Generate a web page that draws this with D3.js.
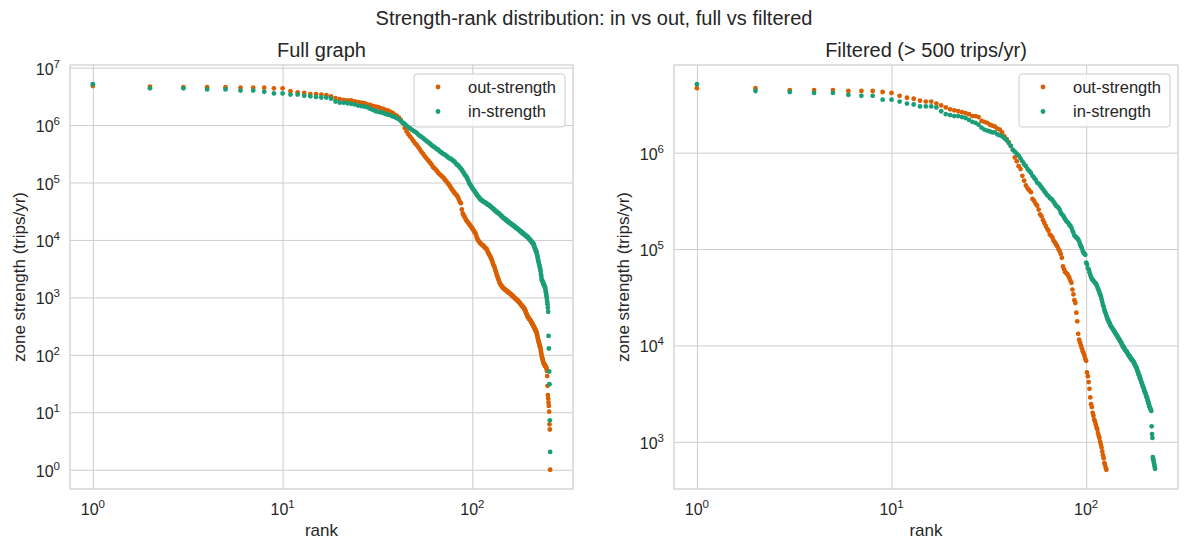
<!DOCTYPE html>
<html>
<head>
<meta charset="utf-8">
<script src="https://cdn.jsdelivr.net/npm/d3@7"></script>
<style>
  body { margin: 0; background: #fff; }
  text { font-family: "Liberation Sans", Arial, sans-serif; fill: #262626; }
</style>
</head>
<body>
<div id="chart"></div>
<script>
// log10 of zone strength (trips/yr), listed by rank 1..N
var fullOut = [
  6.68, 6.67, 6.66, 6.66, 6.66, 6.65, 6.65, 6.65, 6.64, 6.64,
  6.59, 6.57, 6.56, 6.54, 6.54, 6.53, 6.52, 6.50, 6.47, 6.45,
  6.44, 6.43, 6.43, 6.41, 6.40, 6.39, 6.38, 6.36, 6.35, 6.33,
  6.32, 6.31, 6.29, 6.28, 6.26, 6.25, 6.23, 6.21, 6.18, 6.16,
  6.13, 6.09, 6.03, 5.95, 5.89, 5.84, 5.80, 5.76, 5.72, 5.68,
  5.65, 5.61, 5.57, 5.53, 5.50, 5.46, 5.43, 5.40, 5.37, 5.34,
  5.31, 5.27, 5.25, 5.23, 5.20, 5.17, 5.15, 5.13, 5.11, 5.09,
  5.07, 5.04, 5.02, 4.99, 4.97, 4.94, 4.91, 4.88, 4.86, 4.83,
  4.81, 4.79, 4.77, 4.74, 4.70, 4.66, 4.64, 4.53, 4.46, 4.43,
  4.40, 4.37, 4.34, 4.32, 4.30, 4.28, 4.26, 4.24, 4.22, 4.20,
  4.18, 4.15, 4.13, 4.11, 4.07, 4.03, 4.00, 3.98, 3.96, 3.95,
  3.93, 3.92, 3.91, 3.90, 3.89, 3.87, 3.86, 3.85, 3.84, 3.81,
  3.78, 3.76, 3.74, 3.72, 3.69, 3.67, 3.64, 3.60, 3.57, 3.55,
  3.52, 3.48, 3.45, 3.41, 3.38, 3.35, 3.32, 3.29, 3.26, 3.24,
  3.22, 3.21, 3.19, 3.18, 3.17, 3.16, 3.15, 3.14, 3.13, 3.13,
  3.12, 3.11, 3.10, 3.10, 3.09, 3.08, 3.07, 3.07, 3.06, 3.05,
  3.04, 3.03, 3.02, 3.02, 3.01, 3.00, 2.99, 2.98, 2.98, 2.97,
  2.96, 2.95, 2.95, 2.94, 2.93, 2.92, 2.91, 2.90, 2.89, 2.88,
  2.87, 2.86, 2.85, 2.84, 2.83, 2.82, 2.81, 2.80, 2.79, 2.77,
  2.75, 2.73, 2.71, 2.70, 2.68, 2.66, 2.65, 2.64, 2.63, 2.62,
  2.61, 2.60, 2.59, 2.58, 2.56, 2.55, 2.54, 2.53, 2.51, 2.50,
  2.49, 2.47, 2.46, 2.45, 2.43, 2.42, 2.40, 2.39, 2.36, 2.33,
  2.30, 2.27, 2.24, 2.22, 2.20, 2.17, 2.15, 2.13, 2.09, 2.05,
  2.02, 1.98, 1.96, 1.93, 1.91, 1.88, 1.86, 1.85, 1.84, 1.83,
  1.82, 1.81, 1.80, 1.79, 1.78, 1.76, 1.72, 1.63, 1.46, 1.30,
  1.24, 1.17, 1.11, 1.01, 0.79, 0.70, 0.00
];

var fullIn = [
  6.71, 6.64, 6.64, 6.62, 6.62, 6.60, 6.60, 6.58, 6.55, 6.55,
  6.53, 6.53, 6.51, 6.50, 6.49, 6.48, 6.48, 6.46, 6.41, 6.39,
  6.39, 6.38, 6.37, 6.36, 6.34, 6.33, 6.32, 6.31, 6.28, 6.26,
  6.24, 6.23, 6.22, 6.21, 6.19, 6.18, 6.17, 6.15, 6.14, 6.12,
  6.10, 6.07, 6.04, 6.02, 5.99, 5.96, 5.94, 5.92, 5.90, 5.88,
  5.86, 5.83, 5.81, 5.79, 5.77, 5.75, 5.73, 5.71, 5.69, 5.67,
  5.65, 5.63, 5.62, 5.60, 5.58, 5.57, 5.55, 5.53, 5.52, 5.50,
  5.49, 5.48, 5.46, 5.45, 5.43, 5.42, 5.41, 5.40, 5.38, 5.37,
  5.35, 5.33, 5.31, 5.30, 5.28, 5.26, 5.24, 5.22, 5.19, 5.17,
  5.14, 5.12, 5.10, 5.07, 5.04, 5.00, 4.97, 4.95, 4.93, 4.90,
  4.88, 4.86, 4.84, 4.82, 4.80, 4.78, 4.76, 4.75, 4.73, 4.71,
  4.70, 4.69, 4.68, 4.67, 4.66, 4.66, 4.65, 4.64, 4.63, 4.62,
  4.61, 4.61, 4.60, 4.59, 4.58, 4.57, 4.56, 4.55, 4.54, 4.53,
  4.52, 4.51, 4.50, 4.49, 4.48, 4.47, 4.47, 4.46, 4.45, 4.44,
  4.43, 4.42, 4.41, 4.40, 4.39, 4.38, 4.37, 4.37, 4.36, 4.35,
  4.34, 4.34, 4.33, 4.32, 4.31, 4.31, 4.30, 4.29, 4.29, 4.28,
  4.27, 4.27, 4.26, 4.25, 4.25, 4.24, 4.23, 4.23, 4.22, 4.21,
  4.21, 4.20, 4.19, 4.19, 4.18, 4.17, 4.17, 4.16, 4.15, 4.15,
  4.14, 4.13, 4.13, 4.12, 4.11, 4.11, 4.10, 4.09, 4.09, 4.08,
  4.08, 4.07, 4.06, 4.06, 4.05, 4.05, 4.04, 4.03, 4.02, 4.01,
  4.00, 4.00, 3.99, 3.98, 3.97, 3.96, 3.95, 3.95, 3.94, 3.93,
  3.91, 3.89, 3.87, 3.85, 3.83, 3.81, 3.80, 3.78, 3.75, 3.72,
  3.69, 3.66, 3.63, 3.60, 3.57, 3.55, 3.52, 3.49, 3.45, 3.40,
  3.36, 3.31, 3.30, 3.28, 3.27, 3.25, 3.24, 3.22, 3.21, 3.20,
  3.18, 3.17, 3.13, 3.09, 3.06, 3.02, 2.97, 2.93, 2.88, 2.82,
  2.75, 2.33, 2.11, 1.71, 1.49, 0.86, 0.31
];

var filtOut = [
  6.67, 6.67, 6.65, 6.65, 6.65, 6.64, 6.64, 6.64, 6.63, 6.62,
  6.59, 6.57, 6.56, 6.54, 6.53, 6.53, 6.51, 6.49, 6.47, 6.45,
  6.44, 6.43, 6.42, 6.41, 6.40, 6.38, 6.38, 6.37, 6.33, 6.32,
  6.31, 6.29, 6.28, 6.27, 6.25, 6.24, 6.21, 6.17, 6.14, 6.11,
  6.07, 6.03, 5.95, 5.91, 5.86, 5.83, 5.76, 5.71, 5.66, 5.63,
  5.61, 5.59, 5.52, 5.50, 5.47, 5.45, 5.41, 5.36, 5.34, 5.30,
  5.27, 5.24, 5.21, 5.19, 5.15, 5.14, 5.12, 5.09, 5.07, 5.05,
  5.03, 5.00, 4.98, 4.95, 4.91, 4.82, 4.79, 4.76, 4.75, 4.74,
  4.72, 4.70, 4.67, 4.65, 4.58, 4.53, 4.47, 4.44, 4.34, 4.25,
  4.12, 4.06, 4.03, 4.00, 3.97, 3.94, 3.92, 3.89, 3.86, 3.84,
  3.72, 3.68, 3.62, 3.55, 3.46, 3.39, 3.36, 3.30, 3.27, 3.23,
  3.21, 3.18, 3.15, 3.13, 3.09, 3.06, 3.04, 3.00, 2.97, 2.94,
  2.90, 2.86, 2.83, 2.78, 2.76, 2.73, 2.71
];

var filtIn = [
  6.71, 6.64, 6.63, 6.62, 6.62, 6.60, 6.59, 6.59, 6.55, 6.55,
  6.53, 6.51, 6.50, 6.48, 6.48, 6.48, 6.47, 6.43, 6.40, 6.39,
  6.38, 6.38, 6.37, 6.36, 6.34, 6.32, 6.31, 6.29, 6.26, 6.24,
  6.23, 6.22, 6.21, 6.21, 6.19, 6.18, 6.17, 6.15, 6.13, 6.10,
  6.07, 6.03, 6.01, 5.99, 5.97, 5.94, 5.91, 5.88, 5.86, 5.83,
  5.81, 5.79, 5.76, 5.74, 5.72, 5.69, 5.68, 5.66, 5.64, 5.62,
  5.60, 5.58, 5.56, 5.55, 5.53, 5.52, 5.51, 5.49, 5.47, 5.45,
  5.44, 5.43, 5.41, 5.38, 5.36, 5.35, 5.33, 5.31, 5.29, 5.28,
  5.27, 5.25, 5.24, 5.22, 5.19, 5.17, 5.14, 5.13, 5.12, 5.11,
  5.10, 5.08, 5.05, 5.03, 5.01, 4.98, 4.96, 4.95, 4.94, 4.86,
  4.84, 4.80, 4.79, 4.76, 4.73, 4.71, 4.69, 4.68, 4.67, 4.66,
  4.65, 4.64, 4.63, 4.61, 4.59, 4.57, 4.55, 4.53, 4.51, 4.48,
  4.45, 4.42, 4.40, 4.37, 4.35, 4.33, 4.31, 4.29, 4.27, 4.26,
  4.24, 4.23, 4.21, 4.20, 4.19, 4.18, 4.17, 4.16, 4.15, 4.14,
  4.13, 4.12, 4.11, 4.10, 4.09, 4.08, 4.07, 4.06, 4.05, 4.04,
  4.03, 4.02, 4.01, 3.99, 3.99, 3.98, 3.97, 3.96, 3.95, 3.94,
  3.94, 3.93, 3.92, 3.91, 3.90, 3.89, 3.89, 3.88, 3.87, 3.86,
  3.86, 3.85, 3.84, 3.84, 3.83, 3.82, 3.81, 3.80, 3.79, 3.78,
  3.77, 3.76, 3.74, 3.73, 3.72, 3.70, 3.69, 3.68, 3.66, 3.65,
  3.64, 3.62, 3.61, 3.60, 3.58, 3.57, 3.56, 3.55, 3.53, 3.52,
  3.51, 3.50, 3.48, 3.47, 3.46, 3.45, 3.43, 3.42, 3.40, 3.39,
  3.37, 3.36, 3.35, 3.34, 3.33, 3.32, 3.16, 3.08, 3.04, 2.84,
  2.82, 2.80, 2.78, 2.76, 2.74, 2.72
];

var seriesNames = ["out-strength", "in-strength"];
var panelTitles = ["Full graph", "Filtered (> 500 trips/yr)"];

//Figure size and panel boxes
var svgWidth = 1188;
var svgHeight = 552;
var plotTop = 65;
var plotBottom = 489;
var colors = ["#d95f02", "#1b9e77"];

var panels = [
  { title: panelTitles[0], out: fullOut, inn: fullIn, left: 70, right: 573 },
  { title: panelTitles[1], out: filtOut, inn: filtIn, left: 674, right: 1178 }
];

var svg = d3.select("#chart")
  .append("svg")
  .attr("width", svgWidth)
  .attr("height", svgHeight);

// matplotlib style 5% margins, in log space
function logDomain(lo, hi) {
  var pad = (hi - lo) * 0.05;
  return [Math.pow(10, lo - pad), Math.pow(10, hi + pad)];
}

// "10" with a raised exponent
function powerLabel(sel, exp) {
  sel.append("tspan").text("10");
  sel.append("tspan")
    .attr("dy", -7)
    .attr("font-size", 11.5)
    .text(exp);
}

svg.append("text")
  .attr("x", svgWidth / 2)
  .attr("y", 25)
  .attr("text-anchor", "middle")
  .attr("font-size", 20)
  .text("Strength-rank distribution: in vs out, full vs filtered");

panels.forEach(function(p) {
  var n = Math.max(p.out.length, p.inn.length);
  var all = p.out.concat(p.inn);

  var xScale = d3.scaleLog()
    .domain(logDomain(0, Math.log10(n)))
    .range([p.left, p.right]);

  var yScale = d3.scaleLog()
    .domain(logDomain(d3.min(all), d3.max(all)))
    .range([plotBottom, plotTop]);

  var xTicks = [1, 10, 100];
  var yTicks = d3.range(0, 9).filter(function(e) {
    var v = Math.pow(10, e);
    return v >= yScale.domain()[0] && v <= yScale.domain()[1];
  });

  var g = svg.append("g");

  // grid lines
  g.append("g")
    .attr("transform", `translate(0, ${plotBottom})`)
    .call(d3.axisBottom(xScale).tickValues(xTicks).tickSize(-(plotBottom - plotTop)).tickFormat(""))
    .call(function(a) { a.select(".domain").remove(); });

  g.append("g")
    .attr("transform", `translate(${p.left}, 0)`)
    .call(d3.axisLeft(yScale).tickValues(yTicks.map(function(e) { return Math.pow(10, e); }))
      .tickSize(-(p.right - p.left)).tickFormat(""))
    .call(function(a) { a.select(".domain").remove(); });

  g.selectAll(".tick line")
    .attr("stroke", "#cccccc")
    .attr("stroke-width", 1);

  // spines
  g.append("rect")
    .attr("x", p.left)
    .attr("y", plotTop)
    .attr("width", p.right - p.left)
    .attr("height", plotBottom - plotTop)
    .attr("fill", "none")
    .attr("stroke", "#cccccc")
    .attr("stroke-width", 1.2);

  // tick labels
  xTicks.forEach(function(t, i) {
    var lab = g.append("text")
      .attr("x", xScale(t))
      .attr("y", 515)
      .attr("text-anchor", "middle")
      .attr("font-size", 16);
    powerLabel(lab, i);
  });

  yTicks.forEach(function(e) {
    var lab = g.append("text")
      .attr("x", p.left - 10)
      .attr("y", yScale(Math.pow(10, e)) + 7)
      .attr("text-anchor", "end")
      .attr("font-size", 16);
    powerLabel(lab, e);
  });

  // axis labels and title
  g.append("text")
    .attr("x", (p.left + p.right) / 2)
    .attr("y", 536)
    .attr("text-anchor", "middle")
    .attr("font-size", 17)
    .text("rank");

  g.append("text")
    .attr("transform", `translate(${p.left - 45}, ${(plotTop + plotBottom) / 2}) rotate(-90)`)
    .attr("text-anchor", "middle")
    .attr("font-size", 17)
    .text("zone strength (trips/yr)");

  g.append("text")
    .attr("x", (p.left + p.right) / 2)
    .attr("y", 56.5)
    .attr("text-anchor", "middle")
    .attr("font-size", 20)
    .text(p.title);

  // points: out first, in on top
  [p.out, p.inn].forEach(function(series, si) {
    g.append("g").selectAll("circle")
      .data(series)
      .enter()
      .append("circle")
      .attr("cx", function(d, i) { return xScale(i + 1); })
      .attr("cy", function(d) { return yScale(Math.pow(10, d)); })
      .attr("r", 2.4)
      .attr("fill", colors[si]);
  });

  // legend
  var lx = p.right - 159;
  var legend = g.append("g");
  legend.append("rect")
    .attr("x", lx)
    .attr("y", 74)
    .attr("width", 151)
    .attr("height", 53)
    .attr("rx", 3)
    .attr("fill", "#ffffff")
    .attr("fill-opacity", 0.8)
    .attr("stroke", "#cccccc");

  seriesNames.forEach(function(name, si) {
    legend.append("circle")
      .attr("cx", lx + 24)
      .attr("cy", 87 + si * 24.5)
      .attr("r", 2.4)
      .attr("fill", colors[si]);
    legend.append("text")
      .attr("x", lx + 54)
      .attr("y", 92.5 + si * 24.5)
      .attr("font-size", 16.5)
      .text(name);
  });
});
</script>
</body>
</html>
